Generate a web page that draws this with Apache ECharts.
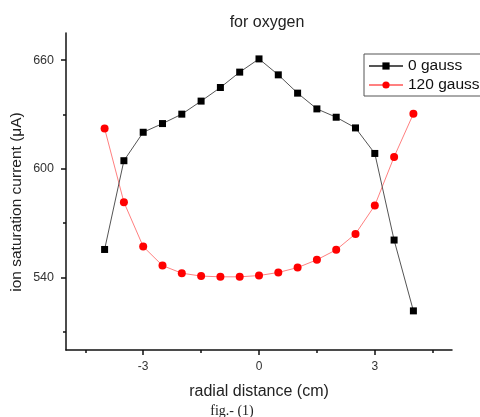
<!DOCTYPE html>
<html>
<head>
<meta charset="utf-8">
<script src="https://cdn.jsdelivr.net/npm/echarts@6/dist/echarts.min.js"></script>
<style>
  html, body { margin: 0; padding: 0; background: #fff; }
  #chart { width: 480px; height: 417px; }
</style>
</head>
<body>
<div id="chart"></div>
<script>
// Radial positions of the probe (cm)
const radialDistance = [-4, -3.5, -3, -2.5, -2, -1.5, -1, -0.5, 0, 0.5, 1, 1.5, 2, 2.5, 3, 3.5, 4];

// Ion saturation current (μA) without and with the magnetic field
const current0Gauss = [555.5, 604.5, 620.2, 625.0, 630.2, 637.4, 644.9, 653.4, 660.7, 651.9, 641.8, 633.1, 628.5, 622.6, 608.5, 560.7, 521.6];
const current120Gauss = [622.3, 581.6, 557.1, 546.6, 542.4, 540.8, 540.4, 540.4, 541.1, 542.8, 545.5, 549.8, 555.3, 564.1, 579.8, 606.6, 630.4];

const seriesNames = ['0 gauss', '120 gauss'];

// Tick positions
const xMajorTicks = [-3, 0, 3];
const xMinorTicks = [-4.5, -1.5, 1.5, 4.5];
const yMajorTicks = [540, 600, 660];
const yMinorTicks = [510, 570, 630];

const FONT = '"Liberation Sans", Arial, sans-serif';

const chart = echarts.init(document.getElementById('chart'), null, { renderer: 'canvas' });

function pairs(xs, ys) {
  return xs.map((x, i) => [x, ys[i]]);
}

const baseX = {
  type: 'value', min: -5, max: 5, position: 'bottom',
  splitLine: { show: false }
};
const baseY = {
  type: 'value', min: 500, max: 675, position: 'left',
  splitLine: { show: false }
};

chart.setOption({
  animation: false,
  backgroundColor: '#ffffff',
  grid: { left: 66, right: 28, top: 33, bottom: 67, containLabel: false },
  title: {
    text: 'for oxygen',
    left: 262, top: 10, textAlign: 'center',
    textStyle: { fontFamily: FONT, fontSize: 16, fontWeight: 'normal', color: '#222' }
  },
  legend: {
    data: seriesNames,
    orient: 'vertical',
    left: 364, top: 54,
    padding: [4, 30, 3, 4],
    itemGap: 3,
    itemWidth: 34, itemHeight: 9,
    borderColor: '#555', borderWidth: 1,
    textStyle: { fontFamily: FONT, fontSize: 15.5, color: '#111', lineHeight: 16, padding: [0, 0, 0, 0] }
  },
  xAxis: [
    Object.assign({}, baseX, {
      axisLine: { show: true, onZero: false, lineStyle: { color: '#111', width: 1.5 } },
      axisTick: { show: true, inside: false, length: 5, customValues: xMajorTicks, lineStyle: { color: '#111', width: 1.5 } },
      axisLabel: { show: true, customValues: xMajorTicks, margin: 11, fontFamily: FONT, fontSize: 12, color: '#333' },
      name: 'radial distance (cm)', nameLocation: 'middle', nameGap: 34,
      nameTextStyle: { fontFamily: FONT, fontSize: 16, color: '#222' }
    }),
    Object.assign({}, baseX, {
      axisLine: { show: false, onZero: false },
      axisTick: { show: true, inside: false, length: 3, customValues: xMinorTicks, lineStyle: { color: '#111', width: 1.5 } },
      axisLabel: { show: false }
    })
  ],
  yAxis: [
    Object.assign({}, baseY, {
      axisLine: { show: true, onZero: false, lineStyle: { color: '#111', width: 1.5 } },
      axisTick: { show: true, inside: false, length: 5, customValues: yMajorTicks, lineStyle: { color: '#111', width: 1.5 } },
      axisLabel: { show: true, customValues: yMajorTicks, margin: 12, fontFamily: FONT, fontSize: 12.5, color: '#333' }
    }),
    Object.assign({}, baseY, {
      axisLine: { show: false, onZero: false },
      axisTick: { show: true, inside: false, length: 3, customValues: yMinorTicks, lineStyle: { color: '#111', width: 1.5 } },
      axisLabel: { show: false }
    })
  ],
  graphic: [
    {
      type: 'text', x: 17, y: 202, rotation: Math.PI / 2,
      style: {
        text: 'ion saturation current (\u03bcA)',
        fontFamily: FONT, fontSize: 15.5, fill: '#222',
        align: 'center', verticalAlign: 'middle'
      }
    },
    {
      type: 'text', x: 232, y: 411,
      style: {
        text: 'fig.- (1)',
        fontFamily: '"Liberation Serif", "Times New Roman", serif', fontSize: 14, fill: '#222',
        align: 'center', verticalAlign: 'middle'
      }
    }
  ],
  series: [
    {
      name: seriesNames[0], type: 'line', xAxisIndex: 0, yAxisIndex: 0,
      data: pairs(radialDistance, current0Gauss),
      symbol: 'rect', symbolSize: 7,
      itemStyle: { color: '#000' },
      lineStyle: { color: '#555', width: 1 },
      z: 3
    },
    {
      name: seriesNames[1], type: 'line', xAxisIndex: 0, yAxisIndex: 0,
      data: pairs(radialDistance, current120Gauss),
      symbol: 'circle', symbolSize: 8,
      itemStyle: { color: '#ff0000' },
      lineStyle: { color: '#ff8080', width: 1 },
      z: 2
    }
  ]
});
</script>
</body>
</html>
